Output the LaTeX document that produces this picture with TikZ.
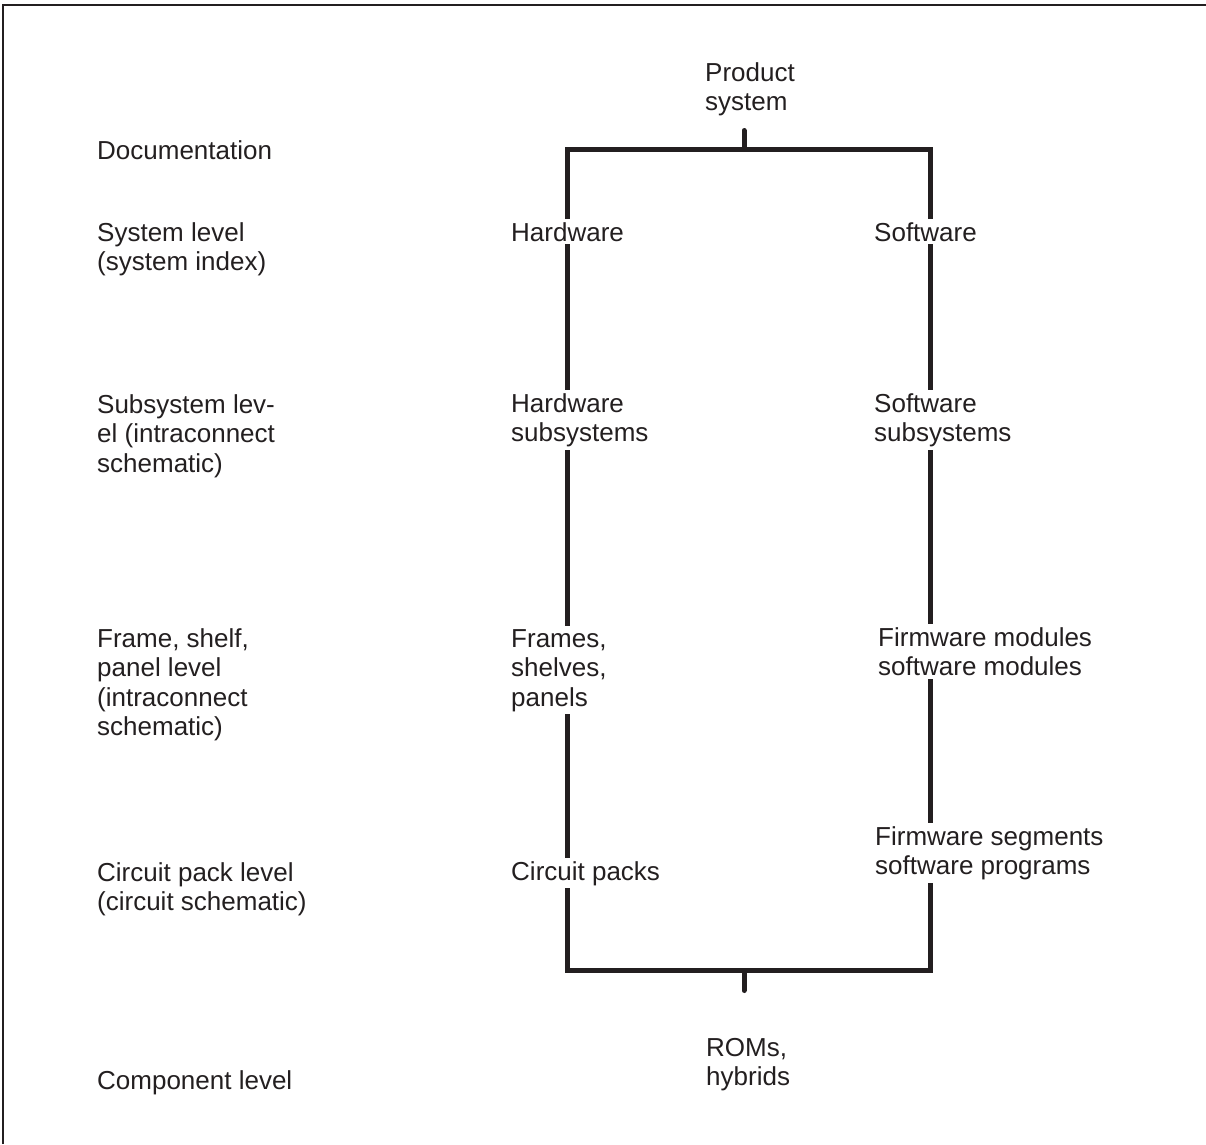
\documentclass[tikz,border=0pt]{standalone}
\usepackage{fontspec}
\setmainfont{Liberation Sans}
\definecolor{ink}{RGB}{35,31,32}
\begin{document}
\begin{tikzpicture}[x=1pt,y=-1pt,
  lab/.style={font=\fontsize{26}{29.5}\selectfont, align=left, inner xsep=0pt, inner ysep=3pt, fill=white, text=ink, anchor=base west},
  heading/.style={lab, fill=none},
  tree/.style={draw=ink, line width=5pt, line join=miter},
  stub/.style={draw=ink, line width=5pt, line cap=round},
  frame/.style={draw=ink, line width=1.6pt}]
\useasboundingbox (0,0) rectangle (1206,1144);
\draw[frame] (3,1144) -- (3,5) -- (1206,5);

% tree geometry
\coordinate (tl) at (567.5,149);
\coordinate (tr) at (930,149);
\coordinate (bl) at (567.5,970.5);
\coordinate (br) at (930,970.5);
\coordinate (top) at (744,149);
\coordinate (bot) at (744,970.5);
\coordinate (topend) at (744,130.5);
\coordinate (botend) at (744,990.5);

\draw[stub] (topend) -- (top);
\draw[stub] (bot) -- (botend);
\draw[tree] (bl) -- (tl) -- (tr) -- (br) -- cycle;

% top and bottom (base = baseline of last line)
\node[heading] (prod) at (705,110.5) {Product\\system};
\node[heading] (roms) at (706,1085.5) {ROMs,\\hybrids};

% left column
\node[heading] (doc) at (97,159) {Documentation};
\node[heading] (l1) at (97,270.5) {System level\\(system index)};
\node[heading] (l2) at (97,472) {Subsystem lev-\\el (intraconnect\\schematic)};
\node[heading] (l3) at (97,735.5) {Frame, shelf,\\panel level\\(intraconnect\\schematic)};
\node[heading] (l4) at (97,910.5) {Circuit pack level\\(circuit schematic)};
\node[heading] (l5) at (97,1089) {Component level};

% hardware column
\node[lab] (hw) at (511,241) {Hardware};
\node[lab] (hws) at (511,441.5) {Hardware\\subsystems};
\node[lab] (hwf) at (511,706) {Frames,\\shelves,\\panels};
\node[lab] (hwc) at (511,880) {Circuit packs};

% software column
\node[lab] (sw) at (874,241) {Software};
\node[lab] (sws) at (874,441.5) {Software\\subsystems};
\node[lab] (swm) at (878,675.5) {Firmware modules\\software modules};
\node[lab] (swp) at (875,874.5) {Firmware segments\\software programs};
\end{tikzpicture}
\end{document}
